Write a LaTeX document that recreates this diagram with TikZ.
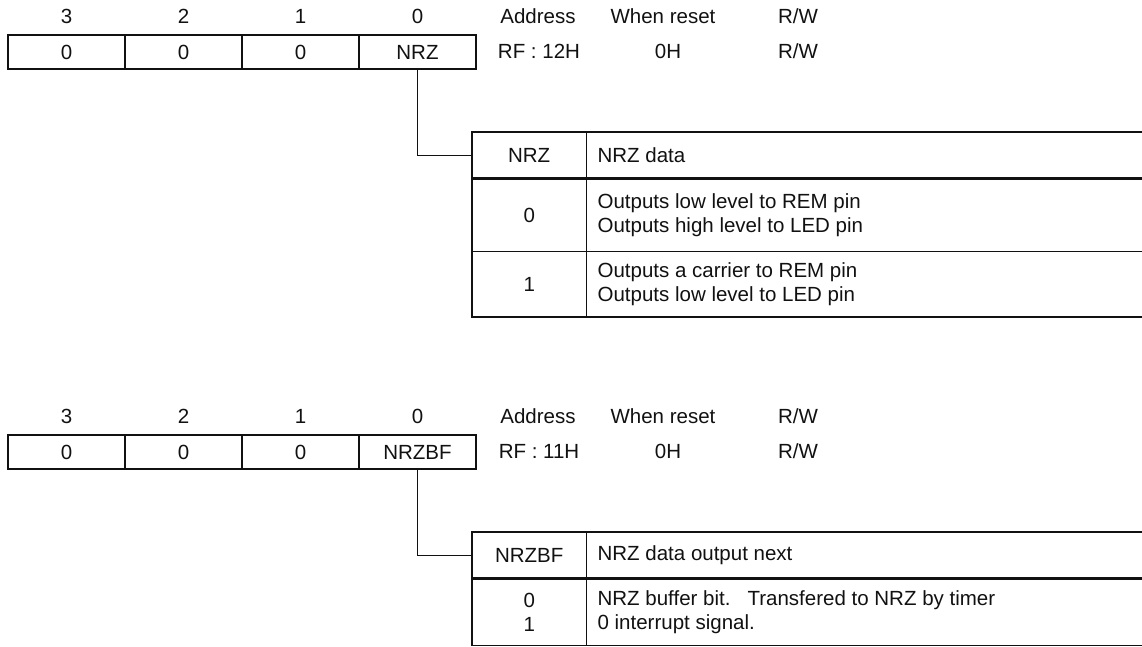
\documentclass[tikz,border=0pt]{standalone}
\usepackage{fontspec}
\setmainfont{Liberation Sans}
\usetikzlibrary{positioning}
\definecolor{regInk}{HTML}{111111}
\tikzset{
  every picture/.style={font=\fontsize{20.5bp}{24bp}\selectfont, text=regInk},
  reg frame/.style={draw=regInk, line width=2.4bp},
  reg rule/.style={draw=regInk, line width=1bp},
  reg cell/.style={draw=regInk, line width=1bp, minimum width=116bp,
    minimum height=33bp, inner sep=0pt},
  key cell/.style={minimum width=114bp, inner sep=0pt},
  desc text/.style={align=left, anchor=west, inner sep=0pt},
  reg lead/.style={draw=regInk, line width=1bp}
}

\begin{document}
\begin{tikzpicture}[x=1bp,y=-1bp]
  \useasboundingbox (0,0) rectangle (1142,647);
  \coordinate (edge) at (1152,0);
  \begin{scope}
    % register RF:12H
    \node[reg cell, anchor=north west] (r1b3) at (8,35) {0};
    \node[reg cell, right=0pt of r1b3] (r1b2) {0};
    \node[reg cell, right=0pt of r1b2] (r1b1) {0};
    \node[reg cell, right=0pt of r1b1] (r1b0) {NRZ};
    \draw[reg frame] (r1b3.north west) rectangle (r1b0.south east);
    \node (r1n3) at (r1b3 |- 0,16) {3};
    \node (r1n2) at (r1b2 |- 0,16) {2};
    \node (r1n1) at (r1b1 |- 0,16) {1};
    \node (r1n0) at (r1b0 |- 0,16) {0};
    \node (r1addr) at (538,16) {Address};
    \node (r1reset) at (663,16) {When reset};
    \node (r1rw) at (798,16) {R/W};
    \node (r1addrv) at (539,51) {RF : 12H};
    \node (r1resetv) at (668,51) {0H};
    \node (r1rwv) at (798,51) {R/W};
    % bit table
    \node[key cell, minimum height=46bp, anchor=north west] (t1key) at (472,132) {NRZ};
    \node[key cell, minimum height=73bp, below=0pt of t1key] (t1v0) {0};
    \node[key cell, minimum height=65bp, below=0pt of t1v0] (t1v1) {1};
    \node[desc text, right=11bp of t1key] (t1name) {NRZ data};
    \node[desc text, right=11bp of t1v0] (t1d0) {Outputs low level to REM pin\\Outputs high level to LED pin};
    \node[desc text, right=11bp of t1v1] (t1d1) {Outputs a carrier to REM pin\\Outputs low level to LED pin};
    \draw[reg rule] (t1key.north east) -- (t1v1.south east);
    \draw[reg rule] (t1v0.south west) -- (t1v0.south west -| edge);
    \draw[reg frame] (t1key.north west -| edge) -- (t1key.north west) -- (t1v1.south west) -- (t1v1.south west -| edge);
    \draw[reg frame] (t1key.south west) -- (t1key.south west -| edge);
    \draw[reg lead] (r1b0.south) |- (t1key.west);
  \end{scope}
  \begin{scope}[shift={(0,400)}]
    % register RF:11H
    \node[reg cell, anchor=north west] (r2b3) at (8,35) {0};
    \node[reg cell, right=0pt of r2b3] (r2b2) {0};
    \node[reg cell, right=0pt of r2b2] (r2b1) {0};
    \node[reg cell, right=0pt of r2b1] (r2b0) {NRZBF};
    \draw[reg frame] (r2b3.north west) rectangle (r2b0.south east);
    \node (r2n3) at (r2b3 |- 0,16) {3};
    \node (r2n2) at (r2b2 |- 0,16) {2};
    \node (r2n1) at (r2b1 |- 0,16) {1};
    \node (r2n0) at (r2b0 |- 0,16) {0};
    \node (r2addr) at (538,16) {Address};
    \node (r2reset) at (663,16) {When reset};
    \node (r2rw) at (798,16) {R/W};
    \node (r2addrv) at (539,51) {RF : 11H};
    \node (r2resetv) at (668,51) {0H};
    \node (r2rwv) at (798,51) {R/W};
    % bit table
    \node[key cell, minimum height=46bp, anchor=north west] (t2key) at (472,132) {NRZBF};
    \node[key cell, minimum height=67bp, align=center, below=0pt of t2key] (t2v) {0\\1};
    \node[desc text, right=11bp of t2key] (t2name) {NRZ data output next};
    \node[desc text, right=11bp of t2v] (t2d) {NRZ buffer bit.\ \ \ Transfered to NRZ by timer\\0 interrupt signal.};
    \draw[reg rule] (t2key.north east) -- (t2v.south east);
    \draw[reg rule] (t2v.south west) -- (t2v.south west -| edge);
    \draw[reg frame] (t2key.north west -| edge) -- (t2key.north west) -- (t2v.south west);
    \draw[reg frame] (t2key.south west) -- (t2key.south west -| edge);
    \draw[reg lead] (r2b0.south) |- (t2key.west);
  \end{scope}
\end{tikzpicture}
\end{document}
